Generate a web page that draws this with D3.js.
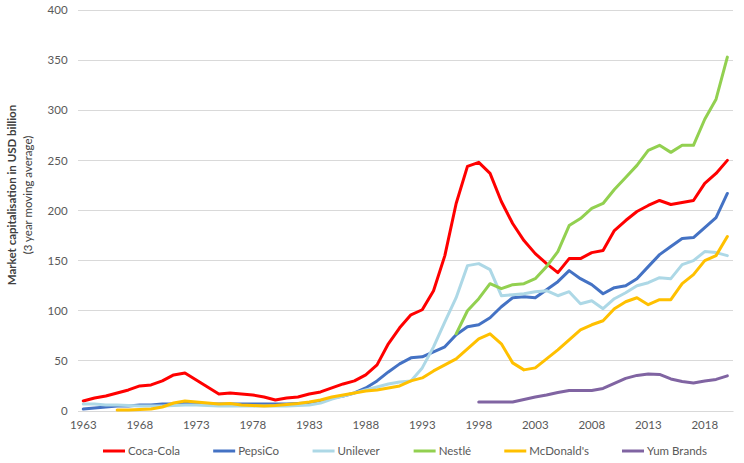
<!DOCTYPE html>
<html>
<head>
<meta charset="utf-8">
<script src="https://cdn.jsdelivr.net/npm/d3@7"></script>
<style>
  html, body { margin: 0; padding: 0; background: #fff; }
  svg { display: block; font-family: Lato, "Liberation Sans", sans-serif; }
</style>
</head>
<body>
<svg id="chart" width="744" height="463"></svg>
<script>
// ---------------- DATA ----------------
const years = d3.range(1963, 2021); // 1963..2020

const cocaCola = [10,13,15,18,21,25,26,30,36,38,31,24,17,18,17,16,14,11,13,14,
  17,19,23,27,30,36,46,67,83,96,101,120,155,207,244,248,237,209,187,170,
  157,147,138,152,152,158,160,180,190,199,205,210,206,208,210,227,237,250];

const pepsiCo = [2,3,4,5,5,6,6,7,7,8,8,7,7,7,7,7,7,7,7,7.5,
  8,10,13,15,18,23,30,39,47,53,54,59,64,76,84,86,93,104,113,114,
  113,121,129,140,132,126,117,123,125,132,144,156,164,172,173,183,193,217];

const unilever = [7,7,6,6,5.5,5,5,5,5.5,6,6,5.5,5,5,5,5,5,5,5,5.5,
  6,8,12,15,18,21,24,27,29,30,43,64,89,113,145,147,141,115,116,117,
  119,120,115,119,107,110,102,112,118,125,128,133,132,146,150,159,158,155];

const nestle = [null,null,null,null,null,null,null,null,null,null,null,null,null,null,null,null,null,null,null,null,
  null,null,null,null,null,null,null,null,null,null,null,null,null,77,100,112,127,122,126,127,
  132,144,159,185,192,202,207,221,233,245,260,265,258,265,265,291,311,353];

const mcdonalds = [null,null,null,1,1,1.5,2,4,8,10,9,8,7,7.5,6,5.5,5,5.5,6.5,7.5,
  9,11,14,16,18,20,21,23,25,30,33,40,46,52,62,72,77,67,48,41,
  43,52,61,71,81,86,90,102,109,113,106,111,111,127,136,150,155,174];

const yumBrands = [null,null,null,null,null,null,null,null,null,null,null,null,null,null,null,null,null,null,null,null,
  null,null,null,null,null,null,null,null,null,null,null,null,null,null,null,9,9,9,9,11.5,
  14,16,18.5,20.5,20.5,20.5,22.5,27.5,32.5,35.5,37,36.5,32,29.5,28,30,31.5,35];

const seriesNames = ["Coca-Cola", "PepsiCo", "Unilever", "Nestlé", "McDonald's", "Yum Brands"];
const seriesValues = [cocaCola, pepsiCo, unilever, nestle, mcdonalds, yumBrands];
const seriesColors = ["#FF0000", "#4472C4", "#ADD8E6", "#92D050", "#FFC000", "#8064A2"];

const yTicks = [0, 50, 100, 150, 200, 250, 300, 350, 400];
const xTickYears = years.filter(y => (y - 1963) % 5 === 0);

const yTitle1 = "Market capitalisation in USD billion";
const yTitle2 = "(3 year moving average)";

// ---------------- CHART ----------------
const svg = d3.select("#chart");
const plot = { left: 77.6, right: 733, top: 10, bottom: 411 };

const x = d3.scaleBand().domain(years).range([plot.left, plot.right]).padding(0);
const xc = yr => x(yr) + x.bandwidth() / 2;
const y = d3.scaleLinear().domain([0, 400]).range([plot.bottom, plot.top]);

// gridlines
svg.append("g")
  .selectAll("line")
  .data(yTicks)
  .join("line")
  .attr("x1", plot.left).attr("x2", plot.right)
  .attr("y1", d => y(d)).attr("y2", d => y(d))
  .attr("stroke", "#d9d9d9").attr("stroke-width", 1)
  .attr("shape-rendering", "crispEdges");

// y axis labels
const yAxis = d3.axisLeft(y).tickValues(yTicks).tickSize(0).tickPadding(10);
const gy = svg.append("g").attr("transform", `translate(${plot.left},0)`).call(yAxis);
gy.select(".domain").remove();
gy.selectAll("text").attr("fill", "#595959").style("font-size", "11.5px")
  .style("font-family", "Lato, sans-serif");

// x axis labels
const xAxis = d3.axisBottom(x).tickValues(xTickYears).tickSize(0).tickPadding(10);
const gx = svg.append("g").attr("transform", `translate(0,${plot.bottom})`).call(xAxis);
gx.select(".domain").attr("stroke", "#d9d9d9");
gx.selectAll("text").attr("fill", "#595959").style("font-size", "11.5px")
  .style("font-family", "Lato, sans-serif");

// lines
const line = d3.line()
  .defined(d => d.v !== null)
  .x(d => xc(d.year))
  .y(d => y(d.v));

seriesValues.forEach((vals, i) => {
  const pts = years.map((yr, j) => ({ year: yr, v: vals[j] }));
  svg.append("path")
    .datum(pts)
    .attr("d", line)
    .attr("fill", "none")
    .attr("stroke", seriesColors[i])
    .attr("stroke-width", 3)
    .attr("stroke-linejoin", "round")
    .attr("stroke-linecap", "round");
});

// y axis title
const yt = svg.append("g").attr("transform", "translate(0,195) rotate(-90)");
yt.append("text").attr("x", 0).attr("y", 16).attr("text-anchor", "middle")
  .attr("fill", "#404040").style("font-size", "11.5px").style("font-weight", "bold")
  .text(yTitle1);
yt.append("text").attr("x", 0).attr("y", 32).attr("text-anchor", "middle")
  .attr("fill", "#404040").style("font-size", "11.5px")
  .text(yTitle2);

// legend
const legend = svg.append("g").attr("transform", "translate(0,451)");
const lineLen = 22, gapLT = 3;
const legLeft = 103, legRight = 707;
const items = legend.selectAll("g").data(seriesNames).join("g");
items.append("line")
  .attr("x1", 0).attr("x2", lineLen).attr("y1", 0).attr("y2", 0)
  .attr("stroke", (d, i) => seriesColors[i]).attr("stroke-width", 3);
items.append("text")
  .attr("x", lineLen + gapLT).attr("y", 0).attr("dy", "0.35em")
  .attr("fill", "#595959").style("font-size", "11.5px")
  .text(d => d);
let widths = [];
items.each(function () { widths.push(this.getBBox().width); });
const gapItem = ((legRight - legLeft) - d3.sum(widths)) / (widths.length - 1);
let cx = legLeft;
items.attr("transform", (d, i) => {
  const t = `translate(${cx},0)`;
  cx += widths[i] + gapItem;
  return t;
});
</script>
</body>
</html>
